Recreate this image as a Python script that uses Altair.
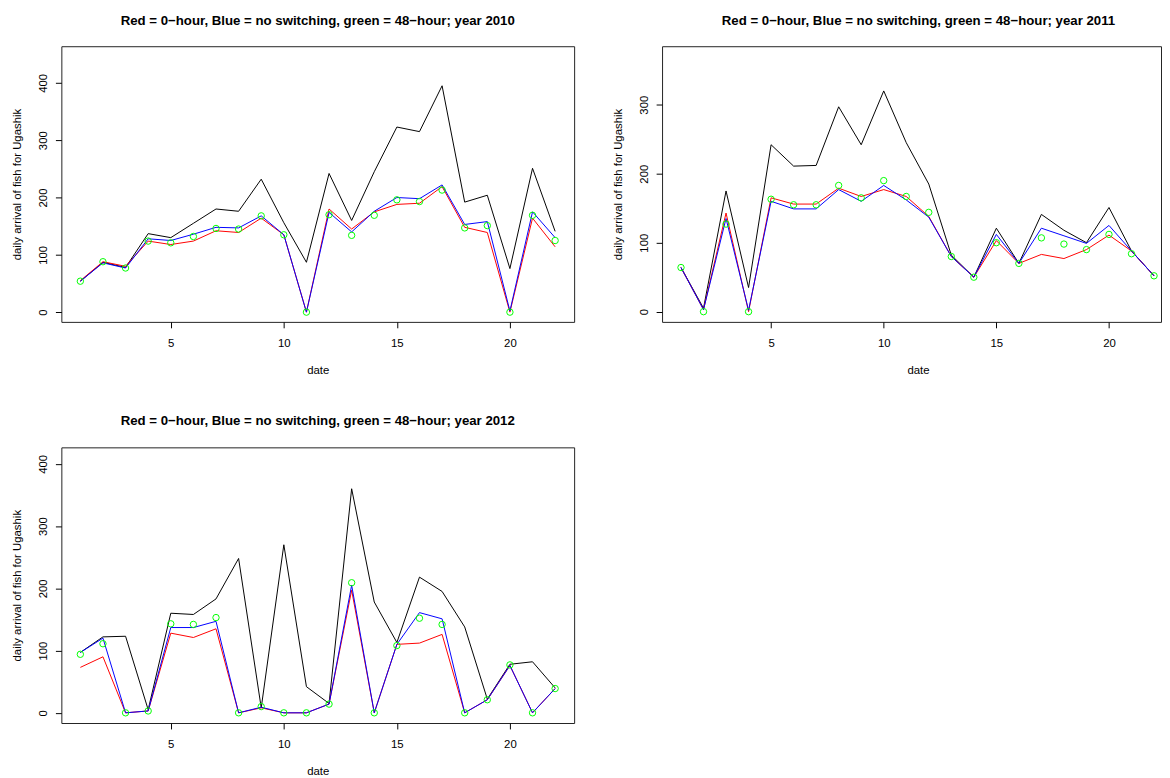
import altair as alt
import pandas as pd

days = list(range(1, 23))

# ---- year 2010 ----
black_2010 = [54, 87, 78, 137, 130, 155, 180, 176, 232, 156, 87, 242, 160, 245,
              323, 315, 395, 192, 204, 76, 251, 141]
red_2010 = [55, 88, 80, 124, 118, 124, 142, 139, 164, 135, 0, 180, 145, 175,
            188, 190, 219, 148, 139, 0, 164, 114]
blue_2010 = [54, 86, 77, 128, 125, 136, 148, 147, 168, 135, 0, 174, 140, 176,
             200, 198, 222, 153, 158, 2, 175, 130]
green_2010 = [54, 88, 77, 124, 121, 132, 146, 145, 168, 135, 0, 170, 134, 169,
              196, 193, 213, 147, 151, 0, 169, 125]

# ---- year 2011 ----
black_2011 = [64, 5, 175, 35, 242, 211, 212, 297, 242, 320, 245, 185, 82, 50,
              121, 70, 141, 118, 100, 151, 88, 52]
red_2011 = [64, 3, 143, 0, 165, 156, 156, 179, 167, 177, 167, 138, 80, 50,
            103, 70, 83, 77, 90, 111, 88, 52]
blue_2011 = [64, 3, 135, 2, 160, 149, 149, 177, 160, 183, 162, 137, 80, 50,
             112, 70, 121, 110, 99, 125, 88, 52]
green_2011 = [64, 0, 127, 0, 163, 155, 155, 183, 165, 190, 167, 144, 80, 50,
              100, 70, 107, 98, 90, 112, 84, 52]

# ---- year 2012 ----
black_2012 = [97, 122, 123, 5, 160, 158, 183, 248, 8, 270, 42, 15, 360, 178,
              113, 218, 195, 138, 22, 78, 82, 40]
red_2012 = [73, 90, 0, 3, 128, 121, 135, 0, 8, 0, 0, 14, 197, 0,
            110, 112, 126, 0, 21, 76, 0, 39]
blue_2012 = [97, 120, 0, 3, 137, 137, 147, 0, 9, 0, 0, 14, 205, 0,
             110, 161, 151, 0, 21, 76, 0, 39]
green_2012 = [94, 111, 0, 3, 143, 142, 153, 0, 10, 0, 0, 14, 209, 0,
              108, 152, 142, 0, 21, 77, 0, 39]

FONT = "Liberation Sans"
TITLE_TMPL = "Red = 0\u2212hour, Blue = no switching, green = 48\u2212hour; year {}"
Y_TITLE = "daily arrival of fish for Ugashik"


def make_df(black, red, blue, green):
    rows = []
    for name, vals in (("black", black), ("red", red), ("blue", blue), ("green", green)):
        for d, v in zip(days, vals):
            rows.append({"date": d, "value": v, "series": name})
    return pd.DataFrame(rows)


def panel(year, black, red, blue, green, ydomain, yticks, xdomain, width, height,
          toff, title_dx=0, xtitle_x=None):
    df = make_df(black, red, blue, green)
    base = alt.Chart(df)
    xaxis_kw = dict(
        values=[5, 10, 15, 20], title="date", grid=False, domain=False,
        tickSize=6, tickColor="black", tickWidth=1,
        labelFont=FONT, labelFontSize=11.5, labelColor="black",
        labelBaseline="alphabetic", labelPadding=18.5, labelFlush=False,
        labelOverlap=False,
        titleFont=FONT, titleFontSize=11.5, titleFontWeight="normal",
        titleColor="black", titleBaseline="alphabetic", titleY=52,
    )
    if xtitle_x is not None:
        xaxis_kw["titleX"] = xtitle_x
        xaxis_kw["titleAlign"] = "center"
    x = alt.X(
        "date:Q",
        scale=alt.Scale(domain=xdomain, nice=False, zero=False),
        axis=alt.Axis(**xaxis_kw),
    )
    y = alt.Y(
        "value:Q",
        scale=alt.Scale(domain=ydomain, nice=False, zero=False),
        axis=alt.Axis(
            values=yticks, title=Y_TITLE, grid=False, domain=False,
            tickSize=6, tickColor="black", tickWidth=1,
            labelFont=FONT, labelFontSize=11.5, labelColor="black",
            labelAngle=270, labelAlign="center", labelBaseline="alphabetic",
            labelPadding=9, labelFlush=False, labelOverlap=False,
            titleFont=FONT, titleFontSize=11.5, titleFontWeight="normal",
            titleColor="black", titleAngle=270, titleAlign="center",
            titleBaseline="alphabetic", titleX=-41, titleY=height / 2,
        ),
    )
    layers = []
    for name, col in (("black", "#000000"), ("red", "#FF0000"), ("blue", "#0000FF")):
        layers.append(
            base.transform_filter(alt.datum.series == name)
            .mark_line(color=col, strokeWidth=1)
            .encode(x=x, y=y, order="date:Q")
        )
    layers.append(
        base.transform_filter(alt.datum.series == "green")
        .mark_point(shape="circle", filled=False, size=42, strokeWidth=1,
                    color="#00FF00", opacity=1)
        .encode(x=x, y=y)
    )
    return alt.layer(*layers).properties(
        width=width,
        height=height,
        title=alt.TitleParams(
            text=TITLE_TMPL.format(year), font=FONT, fontSize=13.4,
            fontWeight="bold", color="black", anchor="middle", frame="group",
            baseline="alphabetic", offset=toff, dx=title_dx,
        ),
    )


p1 = panel(2010, black_2010, red_2010, blue_2010, green_2010,
           [-17, 464], [0, 100, 200, 300, 400], [0.16, 22.84], 519, 279, 8.5)
p2 = panel(2011, black_2011, red_2011, blue_2011, green_2011,
           [-14.8, 384.8], [0, 100, 200, 300], [0.16, 22.31], 505, 279, 8.5,
           title_dx=7, xtitle_x=259)
p3 = panel(2012, black_2012, red_2012, blue_2012, green_2012,
           [-16.4, 426.5], [0, 100, 200, 300, 400], [0.16, 22.84], 519, 279, 9)

chart = alt.concat(
    p1, p2, p3, columns=2, spacing={"row": 127, "column": 89}, bounds="flush"
).properties(
    padding={"left": 3, "top": 0, "right": 0, "bottom": 0},
    background="white",
).configure_view(stroke="#222222", strokeWidth=1)

chart.save("out.html", embed_options={"renderer": "svg", "actions": False})
